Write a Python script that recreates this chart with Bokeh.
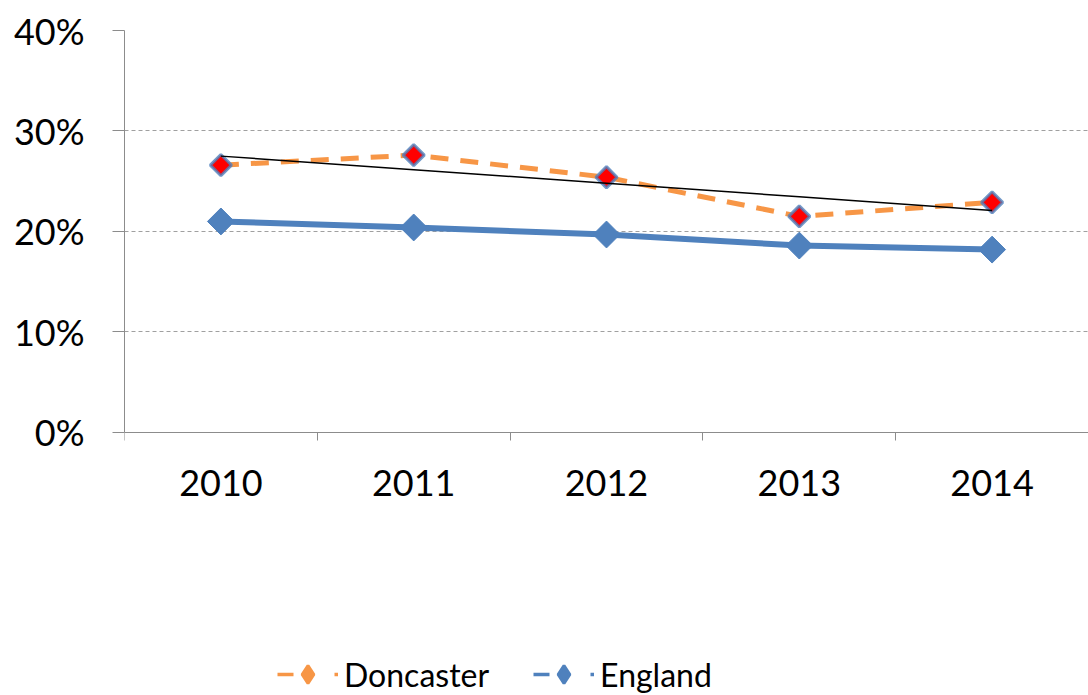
import numpy as np
from bokeh.plotting import figure
from bokeh.models import (ColumnDataSource, FixedTicker, NumeralTickFormatter,
                          Legend, LegendItem, Range1d)
from bokeh.embed import file_html
from bokeh.resources import INLINE

years = ["2010", "2011", "2012", "2013", "2014"]
doncaster = [0.266, 0.276, 0.254, 0.215, 0.229]
england = [0.210, 0.204, 0.197, 0.186, 0.182]
y_ticks = [0.0, 0.1, 0.2, 0.3, 0.4]

ORANGE = "#F79646"
BLUE = "#4F81BD"
RED = "#FF0000"
FONT = "Lato"

xpos = [i + 0.5 for i in range(len(years))]

# linear trend of Doncaster (derived)
xi = np.arange(len(doncaster))
slope, intercept = np.polyfit(xi, doncaster, 1)
trend = list(intercept + slope * xi)

# frame extends below 0% so the legend area lies inside it
p = figure(width=1088, height=695, output_backend="svg", toolbar_location=None,
           x_range=Range1d(0, len(years)), y_range=Range1d(-0.2617, 0.4),
           min_border_left=124, min_border_right=0, min_border_top=30,
           min_border_bottom=0, outline_line_color=None)

# grid
p.xgrid.grid_line_color = None
p.ygrid.grid_line_color = "#a0a0a0"
p.ygrid.grid_line_dash = "4 3"
p.ygrid.grid_line_width = 1

# y axis
p.yaxis.ticker = FixedTicker(ticks=y_ticks)
p.yaxis.bounds = (0, 0.4)
p.yaxis.formatter = NumeralTickFormatter(format="0%")
p.yaxis.axis_line_color = "#8c8c8c"
p.yaxis.major_tick_line_color = "#8c8c8c"
p.yaxis.major_tick_out = 12
p.yaxis.major_tick_in = 0
p.yaxis.minor_tick_line_color = None
p.yaxis.major_label_text_font = FONT
p.yaxis.major_label_text_font_size = "36px"
p.yaxis.major_label_text_color = "#000000"
p.yaxis.major_label_standoff = 28

# x axis at 0%: labels at centers, ticks at category boundaries
p.xaxis.fixed_location = 0
p.xaxis.ticker = FixedTicker(ticks=xpos, minor_ticks=list(range(len(years) + 1)))
p.xaxis.major_label_overrides = {x: y for x, y in zip(xpos, years)}
p.xaxis.axis_line_color = "#8c8c8c"
p.xaxis.major_tick_line_color = None
p.xaxis.major_tick_out = 0
p.xaxis.major_tick_in = 0
p.xaxis.minor_tick_line_color = "#8c8c8c"
p.xaxis.minor_tick_out = 8
p.xaxis.minor_tick_in = 0
p.xaxis.major_label_text_font = FONT
p.xaxis.major_label_text_font_size = "36px"
p.xaxis.major_label_text_color = "#000000"
p.xaxis.major_label_standoff = 30

src = ColumnDataSource(dict(x=xpos, don=doncaster, eng=england, trend=trend))

# England
p.line("x", "eng", source=src, line_color=BLUE, line_width=6)
p.scatter("x", "eng", source=src, marker="square", angle=np.pi / 4, size=19,
          fill_color=BLUE, line_color=BLUE, line_width=1)

# Doncaster
p.line("x", "don", source=src, line_color=ORANGE, line_width=5, line_dash="18 12")
p.scatter("x", "don", source=src, marker="square", angle=np.pi / 4, size=15,
          fill_color=RED, line_color=BLUE, line_width=3, line_alpha=0.8)

# trend line
p.line("x", "trend", source=src, line_color="#000000", line_width=1.5)

# legend dummies
dsrc = ColumnDataSource(dict(x=[np.nan], y=[np.nan]))
d_line = p.line("x", "y", source=dsrc, line_color=ORANGE, line_width=3.5,
                line_dash="16 41 4 100")
d_mark = p.scatter("x", "y", source=dsrc, marker="diamond", fill_color=ORANGE,
                   line_color=ORANGE, line_width=3)
e_line = p.line("x", "y", source=dsrc, line_color=BLUE, line_width=3.5,
                line_dash="16 41 4 100")
e_mark = p.scatter("x", "y", source=dsrc, marker="diamond", fill_color=BLUE,
                   line_color=BLUE, line_width=3)

legend = Legend(items=[LegendItem(label="Doncaster", renderers=[d_line, d_mark]),
                       LegendItem(label="England", renderers=[e_line, e_mark])],
                orientation="horizontal", location=(153, -1),
                label_text_font=FONT, label_text_font_size="32px",
                label_text_color="#000000",
                glyph_width=61, glyph_height=44, label_standoff=6, spacing=44,
                padding=0, margin=0, border_line_color=None,
                background_fill_alpha=0)
p.add_layout(legend)

open("out.html", "w").write(file_html(p, INLINE))
